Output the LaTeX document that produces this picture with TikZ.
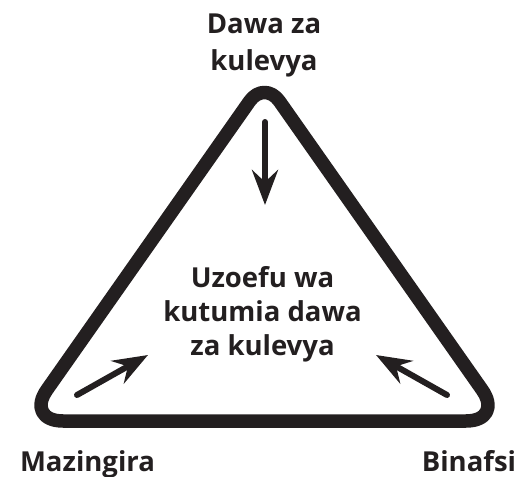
\documentclass[tikz,border=0pt]{standalone}
\usepackage{fontspec}
\setmainfont{Open Sans}
\usetikzlibrary{arrows.meta,calc}
\definecolor{ink}{HTML}{231F20}
\begin{document}
\begin{tikzpicture}[x=1pt,y=-1pt,
  lbl/.style={font=\bfseries\fontsize{27.5}{34}\selectfont, text=ink, align=center, inner sep=0pt, anchor=base},
  tri/.style={draw=ink, line width=13.5pt, line join=round},
  flow/.style={draw=ink, line width=6pt, line cap=round, -{Stealth[length=35pt,width=26pt,inset=12pt]}}]
\useasboundingbox (0,0) rectangle (523,477);
\coordinate (A) at (264.5,80);
\coordinate (L) at (25,421);
\coordinate (R) at (504,421);
\draw[tri] ($(L)!0.5!(R)$) [rounded corners=38pt] -- (R) [rounded corners=26pt] -- (A) [rounded corners=38pt] -- (L) -- cycle;
\node[lbl, font=\bfseries\fontsize{27.5}{36.5}\selectfont] (top) at (264,70) {Dawa za\\kulevya};
\node[lbl] (mid) at (262.5,355) {Uzoefu wa\\kutumia dawa\\za kulevya};
\node[lbl] (env) at (87.5,471) {Mazingira};
\node[lbl] (self) at (469,471) {Binafsi};
\coordinate (t1) at (265,122); \coordinate (t2) at (265,205);
\coordinate (l1) at (77,395); \coordinate (l2) at (148,355);
\coordinate (r1) at (447,395); \coordinate (r2) at (376,355);
\draw[flow] (t1) -- (t2);
\draw[flow] (l1) -- (l2);
\draw[flow] (r1) -- (r2);
\end{tikzpicture}
\end{document}
